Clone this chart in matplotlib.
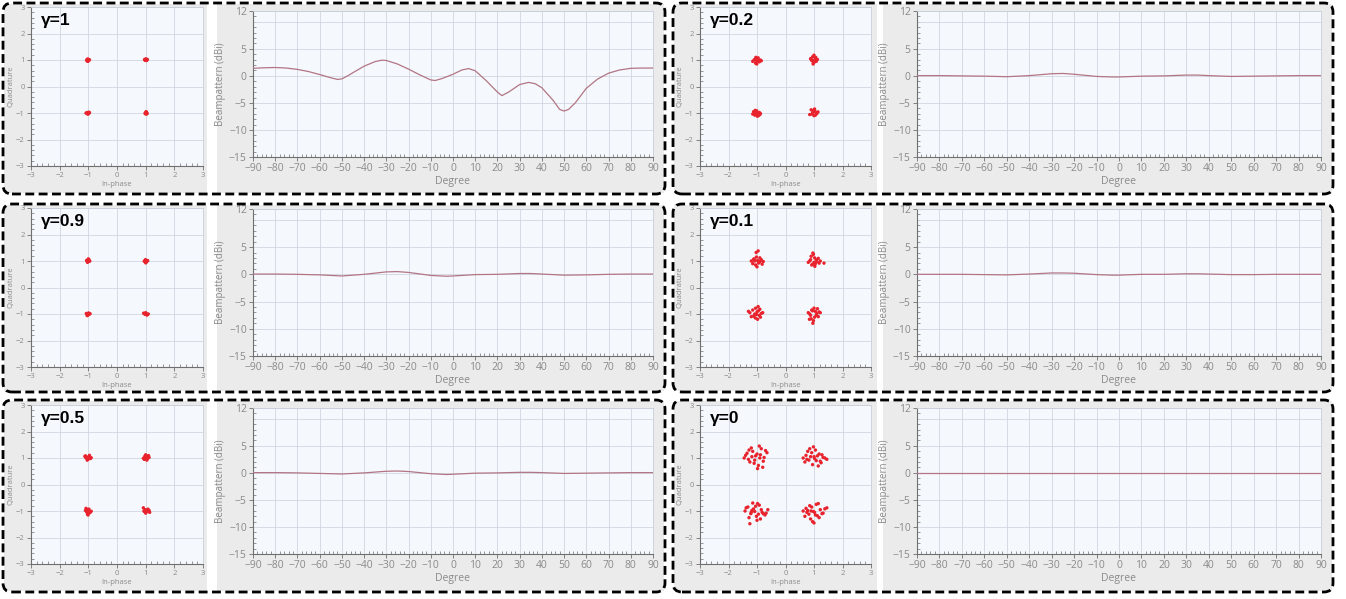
import numpy as np
import matplotlib.pyplot as plt
from matplotlib.patches import Rectangle, FancyBboxPatch
from matplotlib.transforms import IdentityTransform
from matplotlib.ticker import MultipleLocator

W, H = 1346, 599

# ---- beampattern data (dBi vs degree) ----
deg_g1 = [-90, -85, -80, -75, -70, -65, -60, -55, -52, -50, -47, -45, -40, -35, -32, -30,
          -25, -20, -15, -10, -8, -5, 0, 4, 7, 10, 15, 20, 22, 25, 30, 34, 37, 40, 45, 48,
          50, 52, 55, 60, 65, 70, 75, 80, 85, 90]
bp_g1 = [1.4, 1.5, 1.55, 1.45, 1.2, 0.8, 0.25, -0.35, -0.65, -0.55, 0.1, 0.6, 1.8, 2.65, 2.9, 2.85,
         2.2, 1.25, 0.2, -0.75, -0.85, -0.5, 0.3, 1.1, 1.35, 0.95, -0.9, -3.0, -3.65, -3.0, -1.6, -1.2,
         -1.45, -2.2, -4.5, -6.2, -6.5, -6.2, -5.0, -2.3, -0.6, 0.5, 1.1, 1.4, 1.45, 1.45]

deg = [-90, -80, -70, -60, -50, -40, -30, -25, -20, -10, -3, 0, 10, 20, 30, 35, 40, 50, 60, 70, 80, 90]
bp_g09 = [0.05, 0.05, 0.0, -0.1, -0.3, 0.0, 0.45, 0.5, 0.35, -0.2, -0.35, -0.3, -0.05, 0.0, 0.15, 0.15, 0.05, -0.15, -0.1, 0.0, 0.05, 0.05]
bp_g05 = [0.05, 0.05, 0.0, -0.1, -0.2, 0.0, 0.3, 0.35, 0.25, -0.15, -0.3, -0.25, -0.05, 0.0, 0.1, 0.1, 0.05, -0.1, -0.05, 0.0, 0.05, 0.05]
bp_g02 = [0.05, 0.05, 0.0, -0.05, -0.15, 0.05, 0.4, 0.45, 0.3, -0.1, -0.2, -0.2, -0.05, 0.0, 0.15, 0.15, 0.05, -0.1, -0.05, 0.0, 0.05, 0.05]
bp_g01 = [0.0, 0.0, 0.0, -0.05, -0.1, 0.05, 0.25, 0.25, 0.2, -0.05, -0.15, -0.15, 0.0, 0.0, 0.1, 0.1, 0.05, -0.05, -0.05, 0.0, 0.0, 0.0]
bp_g0 = [0.0] * len(deg)

# ---- constellation points (in-phase, quadrature) ----
g1_i = [-1.06, -1.02, -0.98, -1.04, -1.00, -0.96, -1.03, -1.01,
        0.96, 1.00, 1.04, 0.98, 1.02, 1.06, 0.99, 1.03,
        -1.08, -1.03, -0.99, -1.05, -0.96, -1.01, -0.98, -1.04,
        1.01, 1.04, 0.99, 1.03, 1.00, 1.05, 1.02, 0.98]
g1_q = [1.00, 1.04, 0.99, 0.96, 1.02, 1.01, 0.98, 0.95,
        1.02, 1.04, 1.01, 0.99, 1.03, 1.02, 1.00, 0.98,
        -1.00, -0.98, -1.02, -1.01, -0.99, -1.04, -0.97, -1.03,
        -0.97, -1.00, -1.03, -1.04, -0.99, -1.02, -0.95, -1.01]

g09_i = [-1.05, -0.98, -1.02, -0.95, -1.03, -1.00, -0.97, -1.06,
         0.97, 1.02, 1.05, 0.99, 0.95, 1.03, 1.00, 1.07,
         -1.07, -1.02, -0.96, -1.04, -0.99, -1.05, -1.01, -0.94,
         0.93, 0.98, 1.02, 1.06, 1.00, 0.96, 1.04, 1.09]
g09_q = [1.01, 1.05, 0.97, 1.00, 0.95, 1.08, 0.99, 1.02,
         1.00, 0.96, 1.02, 1.05, 0.99, 0.98, 0.93, 1.01,
         -0.98, -1.03, -1.00, -1.06, -0.96, -1.01, -1.04, -0.99,
         -0.97, -1.01, -0.99, -1.02, -0.95, -0.99, -1.04, -1.00]

g05_i = [-1.10, -1.05, -0.98, -0.93, -1.02, -1.08, -0.96, -1.00, -1.04, -0.90, -1.12, -0.99,
         0.95, 1.02, 1.08, 0.98, 1.12, 1.04, 0.92, 1.00, 1.06, 0.97, 1.10, 1.03,
         -1.08, -1.02, -0.96, -1.05, -0.99, -1.10, -0.94, -1.03, -1.06, -0.98, -1.01, -0.90,
         0.92, 0.98, 1.05, 1.10, 1.02, 0.96, 1.08, 1.14, 1.00, 1.04, 0.94, 1.12]
g05_q = [1.08, 1.02, 1.05, 0.98, 0.95, 1.00, 1.10, 1.03, 0.92, 1.01, 1.06, 0.97,
         0.95, 1.00, 1.04, 1.08, 1.02, 0.92, 0.99, 1.12, 0.97, 1.04, 1.09, 1.01,
         -0.90, -0.95, -1.00, -1.04, -1.08, -0.98, -1.06, -1.12, -1.02, -0.93, -1.15, -1.01,
         -0.88, -0.95, -0.98, -1.00, -1.04, -1.02, -0.93, -1.05, -1.08, -0.97, -1.00, -0.98]

g02_i = [-1.15, -1.08, -1.02, -0.95, -0.88, -1.05, -0.98, -0.92, -1.10, -1.00, -0.85, -1.04, -0.96, -1.01,
         0.88, 0.95, 1.02, 1.08, 0.98, 1.05, 0.92, 1.00, 1.12, 0.97, 1.03, 0.90, 1.06, 0.99,
         -1.12, -1.05, -0.98, -0.92, -1.08, -1.01, -0.88, -1.15, -0.95, -1.03, -0.99, -1.06, -0.90, -1.00,
         0.90, 0.97, 1.04, 1.10, 0.95, 1.02, 0.85, 1.08, 1.00, 0.93, 1.14, 0.98, 1.05, 1.01]
g02_q = [0.95, 1.02, 0.90, 0.98, 1.00, 0.88, 1.05, 0.93, 1.00, 0.96, 0.97, 1.10, 1.08, 0.85,
         1.05, 1.12, 1.00, 0.95, 0.90, 1.08, 0.98, 1.18, 1.02, 0.85, 0.93, 1.03, 1.10, 0.97,
         -0.95, -1.00, -1.05, -0.98, -1.08, -0.92, -1.02, -1.04, -1.10, -0.96, -1.12, -0.90, -1.06, -1.00,
         -0.88, -0.92, -0.95, -1.02, -1.00, -0.85, -1.06, -0.98, -1.10, -1.04, -0.96, -0.94, -1.08, -0.90]

g01_i = [-1.20, -1.10, -1.02, -0.95, -0.85, -0.78, -1.15, -1.05, -0.98, -0.90, -0.82, -1.08, -1.00, -0.92, -1.12, -0.96, -1.03, -0.88,
         0.80, 0.88, 0.95, 1.02, 1.10, 1.18, 0.85, 0.92, 1.00, 1.08, 1.15, 0.98, 1.05, 0.90, 1.35, 1.22, 0.96, 1.03,
         -1.25, -1.15, -1.08, -1.00, -0.92, -0.85, -1.20, -1.05, -0.95, -0.88, -1.12, -1.02, -0.98, -0.80, -1.30, -0.90, -1.06, -0.96,
         0.80, 0.88, 0.95, 1.02, 1.10, 1.18, 0.85, 0.92, 1.00, 1.08, 1.15, 0.98, 1.05, 0.90, 1.22, 0.96, 1.12, 0.84]
g01_q = [1.00, 1.08, 1.15, 0.92, 1.05, 0.98, 0.90, 0.85, 1.02, 1.12, 0.88, 1.00, 0.78, 0.95, 1.06, 1.38, 1.32, 1.00,
         0.95, 1.05, 0.88, 1.12, 0.98, 0.92, 1.00, 0.85, 0.95, 1.05, 1.10, 1.25, 0.90, 1.18, 0.92, 1.00, 1.30, 0.80,
         -0.95, -0.85, -1.00, -0.92, -1.05, -0.98, -1.10, -0.78, -0.88, -1.12, -1.08, -1.02, -1.20, -0.95, -0.90, -0.82, -1.15, -0.72,
         -0.95, -1.05, -0.88, -1.12, -0.98, -0.92, -1.00, -0.85, -0.78, -1.05, -1.10, -1.25, -0.90, -1.18, -0.95, -1.35, -0.80, -1.20]

g0_i = [-1.45, -1.35, -1.25, -1.15, -1.05, -0.95, -0.85, -0.75, -0.65, -1.40, -1.30, -1.20, -1.10, -1.00, -0.90, -0.80, -0.70, -1.28, -1.08, -0.92, -0.78, -1.18, -0.98, -0.88,
        0.62, 0.72, 0.82, 0.92, 1.02, 1.12, 1.22, 1.32, 1.45, 0.68, 0.78, 0.88, 0.98, 1.08, 1.18, 1.28, 1.38, 0.85, 0.95, 1.05, 1.15, 0.75, 1.00, 1.25,
        -1.42, -1.32, -1.22, -1.12, -1.02, -0.92, -0.82, -0.72, -0.62, -1.38, -1.28, -1.18, -1.08, -0.98, -0.88, -0.78, -1.25, -1.05, -0.95, -0.85, -1.15, -0.68, -1.00, -1.20,
        0.62, 0.72, 0.82, 0.92, 1.02, 1.12, 1.22, 1.32, 1.45, 0.68, 0.78, 0.88, 0.98, 1.08, 1.18, 1.28, 1.38, 0.85, 0.95, 1.05, 1.15, 0.75, 0.90, 1.00]
g0_q = [1.00, 1.18, 0.85, 1.25, 1.08, 0.72, 1.35, 1.02, 1.20, 1.10, 0.95, 1.38, 0.80, 1.15, 1.00, 0.65, 1.28, 1.30, 0.92, 1.45, 0.88, 1.05, 0.60, 1.12,
        1.00, 1.10, 0.92, 1.20, 0.98, 1.08, 0.88, 1.02, 0.95, 0.85, 1.25, 1.05, 1.42, 0.90, 1.15, 1.12, 1.00, 1.35, 0.75, 1.30, 0.70, 0.95, 1.05, 0.82,
        -1.00, -0.85, -1.10, -0.92, -1.20, -0.78, -1.05, -1.15, -0.95, -0.88, -1.25, -0.98, -1.02, -0.72, -1.30, -1.10, -1.48, -0.82, -1.12, -0.95, -0.70, -1.08, -1.35, -1.05,
        -1.00, -0.90, -1.12, -0.85, -1.05, -1.18, -0.95, -1.08, -0.88, -1.20, -0.98, -1.30, -1.02, -0.75, -1.25, -1.10, -0.92, -0.80, -1.40, -1.15, -0.72, -1.05, -1.00, -1.45]

labels = ['γ=1', 'γ=0.9', 'γ=0.5', 'γ=0.2', 'γ=0.1', 'γ=0']
iq_sets = [(g1_i, g1_q), (g09_i, g09_q), (g05_i, g05_q), (g02_i, g02_q), (g01_i, g01_q), (g0_i, g0_q)]
bp_sets = [(deg_g1, bp_g1), (deg, bp_g09), (deg, bp_g05), (deg, bp_g02), (deg, bp_g01), (deg, bp_g0)]

plt.rcParams['font.family'] = ['Open Sans', 'DejaVu Sans']
fig = plt.figure(figsize=(W / 100, H / 100), dpi=100)
fig.patch.set_facecolor('white')

BG = '#ebebeb'
PLOT_BG = '#f5f8fc'
GRID = '#d0d6e1'
TXT = '#8a8a8a'
RED = '#e8232d'
LINE = '#b27584'

# pixel layout: (box top, box bottom, scatter top, scatter bottom, beam top, beam bottom)
rows = [(3, 194, 7, 166, 11, 157), (204, 392, 208, 367, 209, 356), (400, 592, 405, 564, 408, 554)]
# (box left, box right, scatter bg right, beam bg left, scatter l, r, beam l, r)
cols = [(3, 665, 207, 217, 31, 203, 253, 653), (673, 1333, 877, 883, 700, 871, 917, 1321)]


def rect_px(x0, y0, x1, y1, color):
    fig.patches.append(Rectangle((x0 / W, 1 - y1 / H), (x1 - x0) / W, (y1 - y0) / H,
                                 transform=fig.transFigure, facecolor=color, edgecolor='none', zorder=-5))


def axes_px(l, t, r, b):
    return fig.add_axes([l / W, 1 - b / H, (r - l) / W, (b - t) / H])


def style(ax, fs):
    ax.set_facecolor(PLOT_BG)
    for s in ['top', 'right']:
        ax.spines[s].set_color('#c9d0db')
        ax.spines[s].set_linewidth(0.6)
    for s in ['left', 'bottom']:
        ax.spines[s].set_color('#6f6f6f')
        ax.spines[s].set_linewidth(0.8)
    ax.tick_params(which='major', direction='out', length=3, width=0.6, colors='#6f6f6f',
                   labelcolor=TXT, labelsize=fs, pad=1.5)
    ax.tick_params(which='minor', direction='in', length=2, width=0.5, colors='#6f6f6f')
    ax.grid(True, which='major', color=GRID, lw=0.6)
    ax.set_axisbelow(True)


k = 0
for c, col in enumerate(cols):
    bl, br, sbr, bbl, sl, sr, bpl, bpr = col
    for r, row in enumerate(rows):
        bt, bb, st, sb, pt, pb = row
        rect_px(bl + 1, bt + 1, sbr, bb - 1, BG)
        rect_px(bbl, bt + 1, br - 1, bb - 1, BG)

        # constellation
        ax = axes_px(sl, st, sr, sb)
        style(ax, 5.5)
        ii, qq = iq_sets[k]
        ax.scatter(ii, qq, s=6, color=RED, edgecolors='none', zorder=3)
        ax.set_xlim(-3, 3)
        ax.set_ylim(-3, 3)
        ax.xaxis.set_major_locator(MultipleLocator(1))
        ax.yaxis.set_major_locator(MultipleLocator(1))
        ax.xaxis.set_minor_locator(MultipleLocator(0.2))
        ax.yaxis.set_minor_locator(MultipleLocator(0.2))
        ax.set_xlabel('In-phase', fontsize=5.5, color=TXT, labelpad=1)
        ax.set_ylabel('Quadrature', fontsize=5.5, color=TXT, labelpad=1)
        ax.text(0.06, 0.965, labels[k], transform=ax.transAxes, ha='left', va='top',
                fontsize=12.5, fontweight='bold', family=['Liberation Sans', 'DejaVu Sans'], color='black')

        # beampattern
        ax2 = axes_px(bpl, pt, bpr, pb)
        style(ax2, 7.5)
        xs, ys = bp_sets[k]
        ax2.plot(xs, ys, color=LINE, lw=0.9, zorder=3)
        ax2.set_xlim(-90, 90)
        ax2.set_ylim(-15, 12)
        ax2.set_xticks(np.arange(-90, 91, 10))
        ax2.set_yticks([-15, -10, -5, 0, 5, 12])
        ax2.axhline(10, color=GRID, lw=0.6, zorder=1)
        ax2.xaxis.set_minor_locator(MultipleLocator(2))
        ax2.yaxis.set_minor_locator(MultipleLocator(1))
        ax2.set_xlabel('Degree', fontsize=7.5, color=TXT, labelpad=1)
        ax2.set_ylabel('Beampattern (dBi)', fontsize=7, color=TXT, labelpad=2)

        # dashed rounded border
        box = FancyBboxPatch((bl, H - bb), br - bl, bb - bt,
                             boxstyle='round,pad=0,rounding_size=9',
                             transform=IdentityTransform(), facecolor='none', edgecolor='black',
                             lw=2.0, linestyle=(0, (3.2, 1.6)), zorder=10)
        fig.patches.append(box)
        k += 1

fig.savefig('out.png', dpi=100)
